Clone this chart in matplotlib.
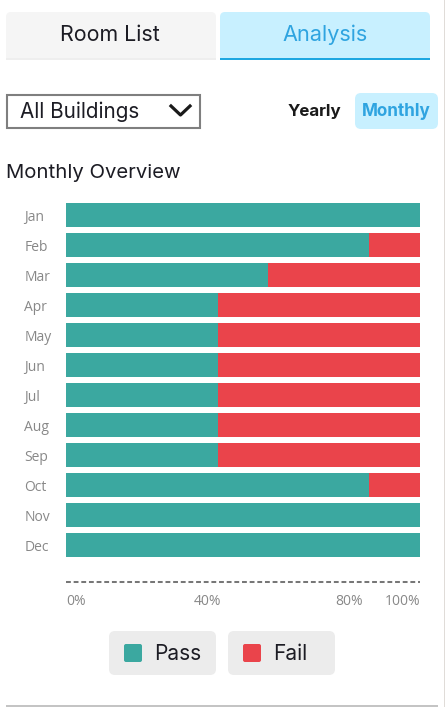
import matplotlib
matplotlib.use("Agg")
import matplotlib.pyplot as plt
from matplotlib.patches import FancyBboxPatch, Rectangle
from matplotlib.lines import Line2D

months = ['Jan', 'Feb', 'Mar', 'Apr', 'May', 'Jun', 'Jul', 'Aug', 'Sep', 'Oct', 'Nov', 'Dec']
pass_pct = [100, 85.6, 57, 43, 43, 43, 43, 43, 43, 85.6, 100, 100]
fail_pct = [0, 14.4, 43, 57, 57, 57, 57, 57, 57, 14.4, 0, 0]
tick_vals = [0, 40, 80, 100]
tick_labels = ['0%', '40%', '80%', '100%']

TEAL = '#3BA8A0'
RED = '#EA444B'
BLUE = '#1EA7E1'
LIGHT_BLUE = '#C8F0FF'
DARK = '#1c1c24'
GREY = '#888888'
W, H = 445, 707


def rounded(ax, x0, y0, x1, y1, r, color):
    ax.add_patch(FancyBboxPatch((x0 + r, y0 + r), x1 - x0 - 2 * r, y1 - y0 - 2 * r,
                                boxstyle=f'round,pad={r},rounding_size={r}',
                                fc=color, ec='none'))


fig = plt.figure(figsize=(W / 100, H / 100), dpi=100)

# page furniture, in pixel coordinates
ui = fig.add_axes([0, 0, 1, 1])
ui.set_xlim(0, W)
ui.set_ylim(H, 0)
ui.axis('off')

rounded(ui, 6, 12, 216, 62, 5, '#F5F5F5')
ui.add_patch(Rectangle((6, 58), 210, 2, fc='#EEEEEE', ec='none'))
ui.add_patch(Rectangle((6, 60), 210, 4, fc='white', ec='none'))
rounded(ui, 220, 12, 430, 62, 5, LIGHT_BLUE)
ui.add_patch(Rectangle((220, 58), 210, 2, fc=BLUE, ec='none'))
ui.add_patch(Rectangle((220, 60), 210, 4, fc='white', ec='none'))
ui.text(110, 35, 'Room List', fontsize=15.4, family='Inter', color=DARK, ha='center', va='center')
ui.text(325.5, 35, 'Analysis', fontsize=15.6, family='Inter', color='#2FA4E0', ha='center', va='center')

ui.add_patch(Rectangle((7, 94.5), 193, 33, fc='white', ec='#7f7f7f', lw=1.5))
ui.text(20, 112, 'All Buildings', fontsize=14.9, family='Inter', color=DARK, ha='left', va='center')
ui.add_line(Line2D([171, 180.5, 190], [106, 115, 106], color='#1a1a1a', lw=2.3))

ui.text(314.5, 111.5, 'Yearly', fontsize=12.2, family='Inter', weight='bold', color='#1a1a1a', ha='center', va='center')
rounded(ui, 355, 93, 438, 129, 6, LIGHT_BLUE)
ui.text(396.5, 111.5, 'Monthly', fontsize=12.3, family='Inter', weight='bold', color='#2FA4E0', ha='center', va='center')

ui.text(6, 173, 'Monthly Overview', fontsize=14.6, family='Inter', color=DARK, ha='left', va='center')

# legend chips
rounded(ui, 109, 631, 216, 675, 6, '#ECECEC')
rounded(ui, 228, 631, 335, 675, 6, '#ECECEC')
rounded(ui, 124, 644, 142, 662, 2, TEAL)
rounded(ui, 243, 644, 261, 662, 2, RED)
ui.text(154, 654, 'Pass', fontsize=15, family='Inter', color=DARK, ha='left', va='center')
ui.text(273, 654, 'Fail', fontsize=15, family='Inter', color=DARK, ha='left', va='center')

ui.add_patch(Rectangle((6, 705), 432, 2, fc='#C4C4C4', ec='none'))
ui.add_patch(Rectangle((443.5, 0), 1.5, H, fc='#E0DCD8', ec='none'))

# stacked bars
ax = fig.add_axes([66 / W, 1 - 582 / H, 354 / W, (582 - 200) / H])
y = list(range(len(months)))
ax.barh(y, pass_pct, height=0.8, color=TEAL)
ax.barh(y, fail_pct, left=pass_pct, height=0.8, color=RED)
ax.set_xlim(0, 100)
ax.set_ylim(12.233, -0.5)
ax.patch.set_alpha(0)

ax.set_yticks(y)
ax.set_yticklabels(months, fontsize=10, family='Open Sans', color=GREY)
for lab in ax.get_yticklabels():
    lab.set_ha('left')
    lab.set_x(-37 / 354)
ax.tick_params(axis='y', length=0)

ax.set_xticks(tick_vals)
ax.set_xticklabels(tick_labels, fontsize=10, family='Open Sans', color=GREY)
ax.tick_params(axis='x', length=0, pad=8.5)
xlabs = ax.get_xticklabels()
xlabs[0].set_ha('left')
xlabs[-1].set_ha('right')

for side in ['top', 'left', 'right']:
    ax.spines[side].set_visible(False)
ax.spines['bottom'].set_color('#777777')
ax.spines['bottom'].set_linewidth(1.45)
ax.spines['bottom'].set_linestyle((0, (2.4, 1.4)))
ax.spines['bottom'].set_capstyle('butt')

fig.savefig('out.png', dpi=100)
